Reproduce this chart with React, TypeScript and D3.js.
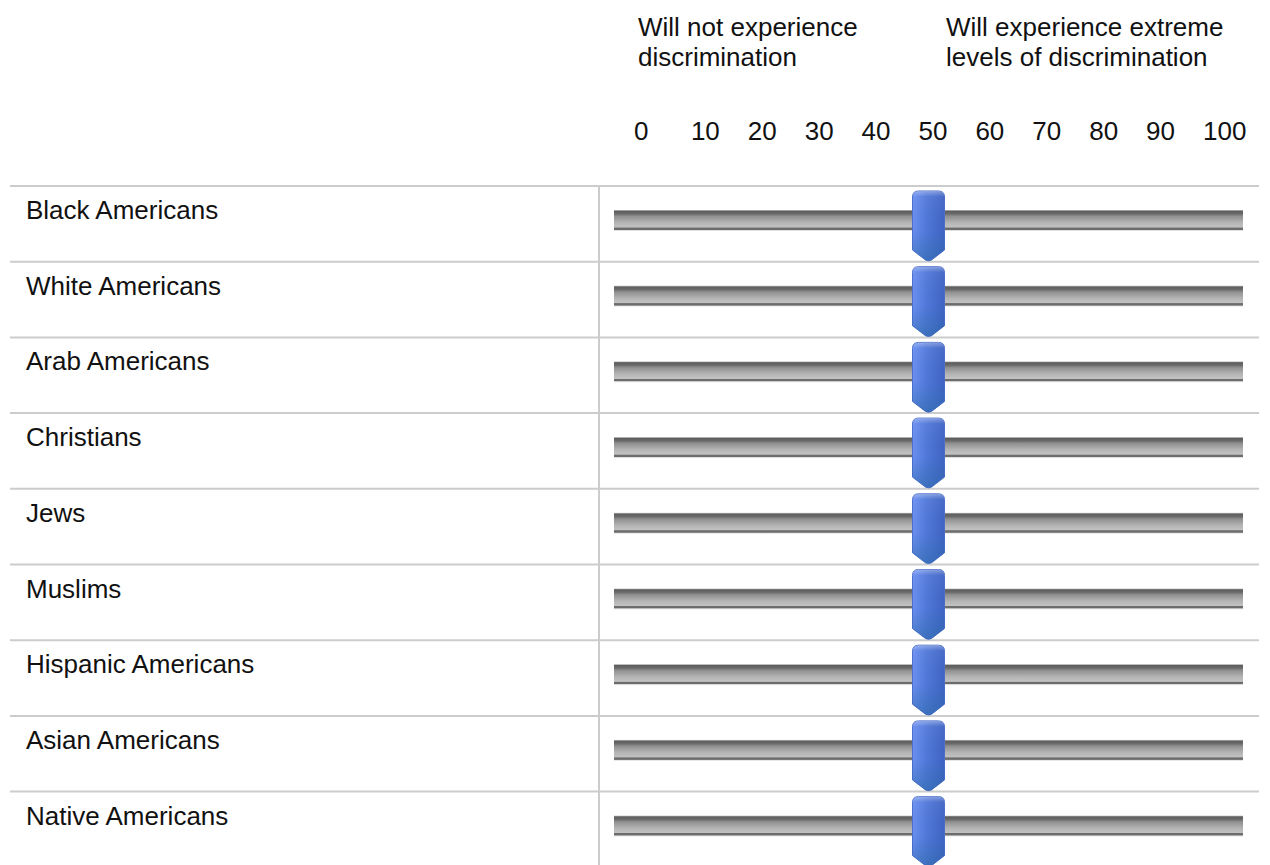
import React from "react";
import * as d3 from "d3";

const categories: string[] = [
  "Black Americans",
  "White Americans",
  "Arab Americans",
  "Christians",
  "Jews",
  "Muslims",
  "Hispanic Americans",
  "Asian Americans",
  "Native Americans",
];
const values: number[] = [50, 50, 50, 50, 50, 50, 50, 50, 50];
const tickLabels: number[] = [0, 10, 20, 30, 40, 50, 60, 70, 80, 90, 100];
const leftHeader: string[] = ["Will not experience", "discrimination"];
const rightHeader: string[] = ["Will experience extreme", "levels of discrimination"];

const W = 1270;
const H = 865;
const FONT = "Arial, 'Liberation Sans', Helvetica, sans-serif";
const FS = 26;

export default function App() {
  const rowTop = 186;
  const rowH = 75.7;
  const y = d3
    .scaleBand<string>()
    .domain(categories)
    .range([rowTop, rowTop + rowH * categories.length])
    .paddingInner(0)
    .paddingOuter(0);
  const x = d3.scaleLinear().domain([0, 100]).range([614, 1243]);
  const tickX = d3.scaleLinear().domain([0, 100]).range([634, 1203]);

  const thumbW = 32;
  const thumbTop = 5;
  const thumbSide = 59;
  const thumbTip = 70;

  const thumbPath = (cx: number, top: number) => {
    const p = d3.path();
    const l = cx - thumbW / 2;
    const r = cx + thumbW / 2;
    const rad = 6;
    p.moveTo(l, top + rad);
    p.quadraticCurveTo(l, top, l + rad, top);
    p.lineTo(r - rad, top);
    p.quadraticCurveTo(r, top, r, top + rad);
    p.lineTo(r, top + thumbSide);
    p.lineTo(cx + 3, top + thumbTip - 1);
    p.quadraticCurveTo(cx, top + thumbTip + 0.5, cx - 3, top + thumbTip - 1);
    p.lineTo(l, top + thumbSide);
    p.closePath();
    return p.toString();
  };

  const lineYs = [...categories.map((c) => y(c) as number), rowTop + rowH * categories.length];

  return (
    <svg
      width={W}
      height={H}
      style={{ position: "absolute", left: 0, top: 0, display: "block", background: "#fff" }}
      fontFamily={FONT}
    >
      <defs>
        <linearGradient id="trackGrad" x1="0" y1="0" x2="0" y2="1">
          <stop offset="0%" stopColor="#c8c8c8" />
          <stop offset="6%" stopColor="#5e5e5e" />
          <stop offset="18%" stopColor="#6a6a6a" />
          <stop offset="30%" stopColor="#909090" />
          <stop offset="60%" stopColor="#b4b4b4" />
          <stop offset="82%" stopColor="#c2c2c2" />
          <stop offset="85%" stopColor="#6c6c6c" />
          <stop offset="93%" stopColor="#6c6c6c" />
          <stop offset="96%" stopColor="#d8d8d8" />
          <stop offset="100%" stopColor="#eeeeee" />
        </linearGradient>
        <linearGradient id="thumbH" x1="0" y1="0" x2="1" y2="0">
          <stop offset="0%" stopColor="#6a8ff0" />
          <stop offset="45%" stopColor="#5077d8" />
          <stop offset="100%" stopColor="#3e63c2" />
        </linearGradient>
        <linearGradient id="thumbV" x1="0" y1="0" x2="0" y2="1">
          <stop offset="0%" stopColor="#ffffff" stopOpacity="0.35" />
          <stop offset="8%" stopColor="#ffffff" stopOpacity="0.05" />
          <stop offset="55%" stopColor="#2f6aa8" stopOpacity="0" />
          <stop offset="100%" stopColor="#2a6aa5" stopOpacity="0.55" />
        </linearGradient>
      </defs>

      {leftHeader.map((t, i) => (
        <text key={"lh" + i} x={638} y={36 + i * 30} fontSize={FS} fill="#111">
          {t}
        </text>
      ))}
      {rightHeader.map((t, i) => (
        <text key={"rh" + i} x={946} y={36 + i * 30} fontSize={FS} fill="#111">
          {t}
        </text>
      ))}
      {tickLabels.map((t) => (
        <text key={"t" + t} x={tickX(t)} y={140} fontSize={FS} fill="#111">
          {t}
        </text>
      ))}

      {lineYs.map((ly, i) => (
        <line key={"hl" + i} x1={10} x2={1259} y1={ly} y2={ly} stroke="#cccccc" strokeWidth={2} />
      ))}
      <line x1={599} x2={599} y1={rowTop} y2={H} stroke="#cccccc" strokeWidth={2} />

      {categories.map((c, i) => {
        const top = y(c) as number;
        const cx = x(values[i]);
        return (
          <g key={c}>
            <text x={26} y={top + 33} fontSize={FS} fill="#111">
              {c}
            </text>
            <rect x={x(0)} y={top + 24} width={x(100) - x(0)} height={21} fill="url(#trackGrad)" />
            <path d={thumbPath(cx, top + thumbTop)} fill="url(#thumbH)" stroke="#4a6dcc" strokeWidth={1} />
            <path d={thumbPath(cx, top + thumbTop)} fill="url(#thumbV)" />
          </g>
        );
      })}
    </svg>
  );
}
